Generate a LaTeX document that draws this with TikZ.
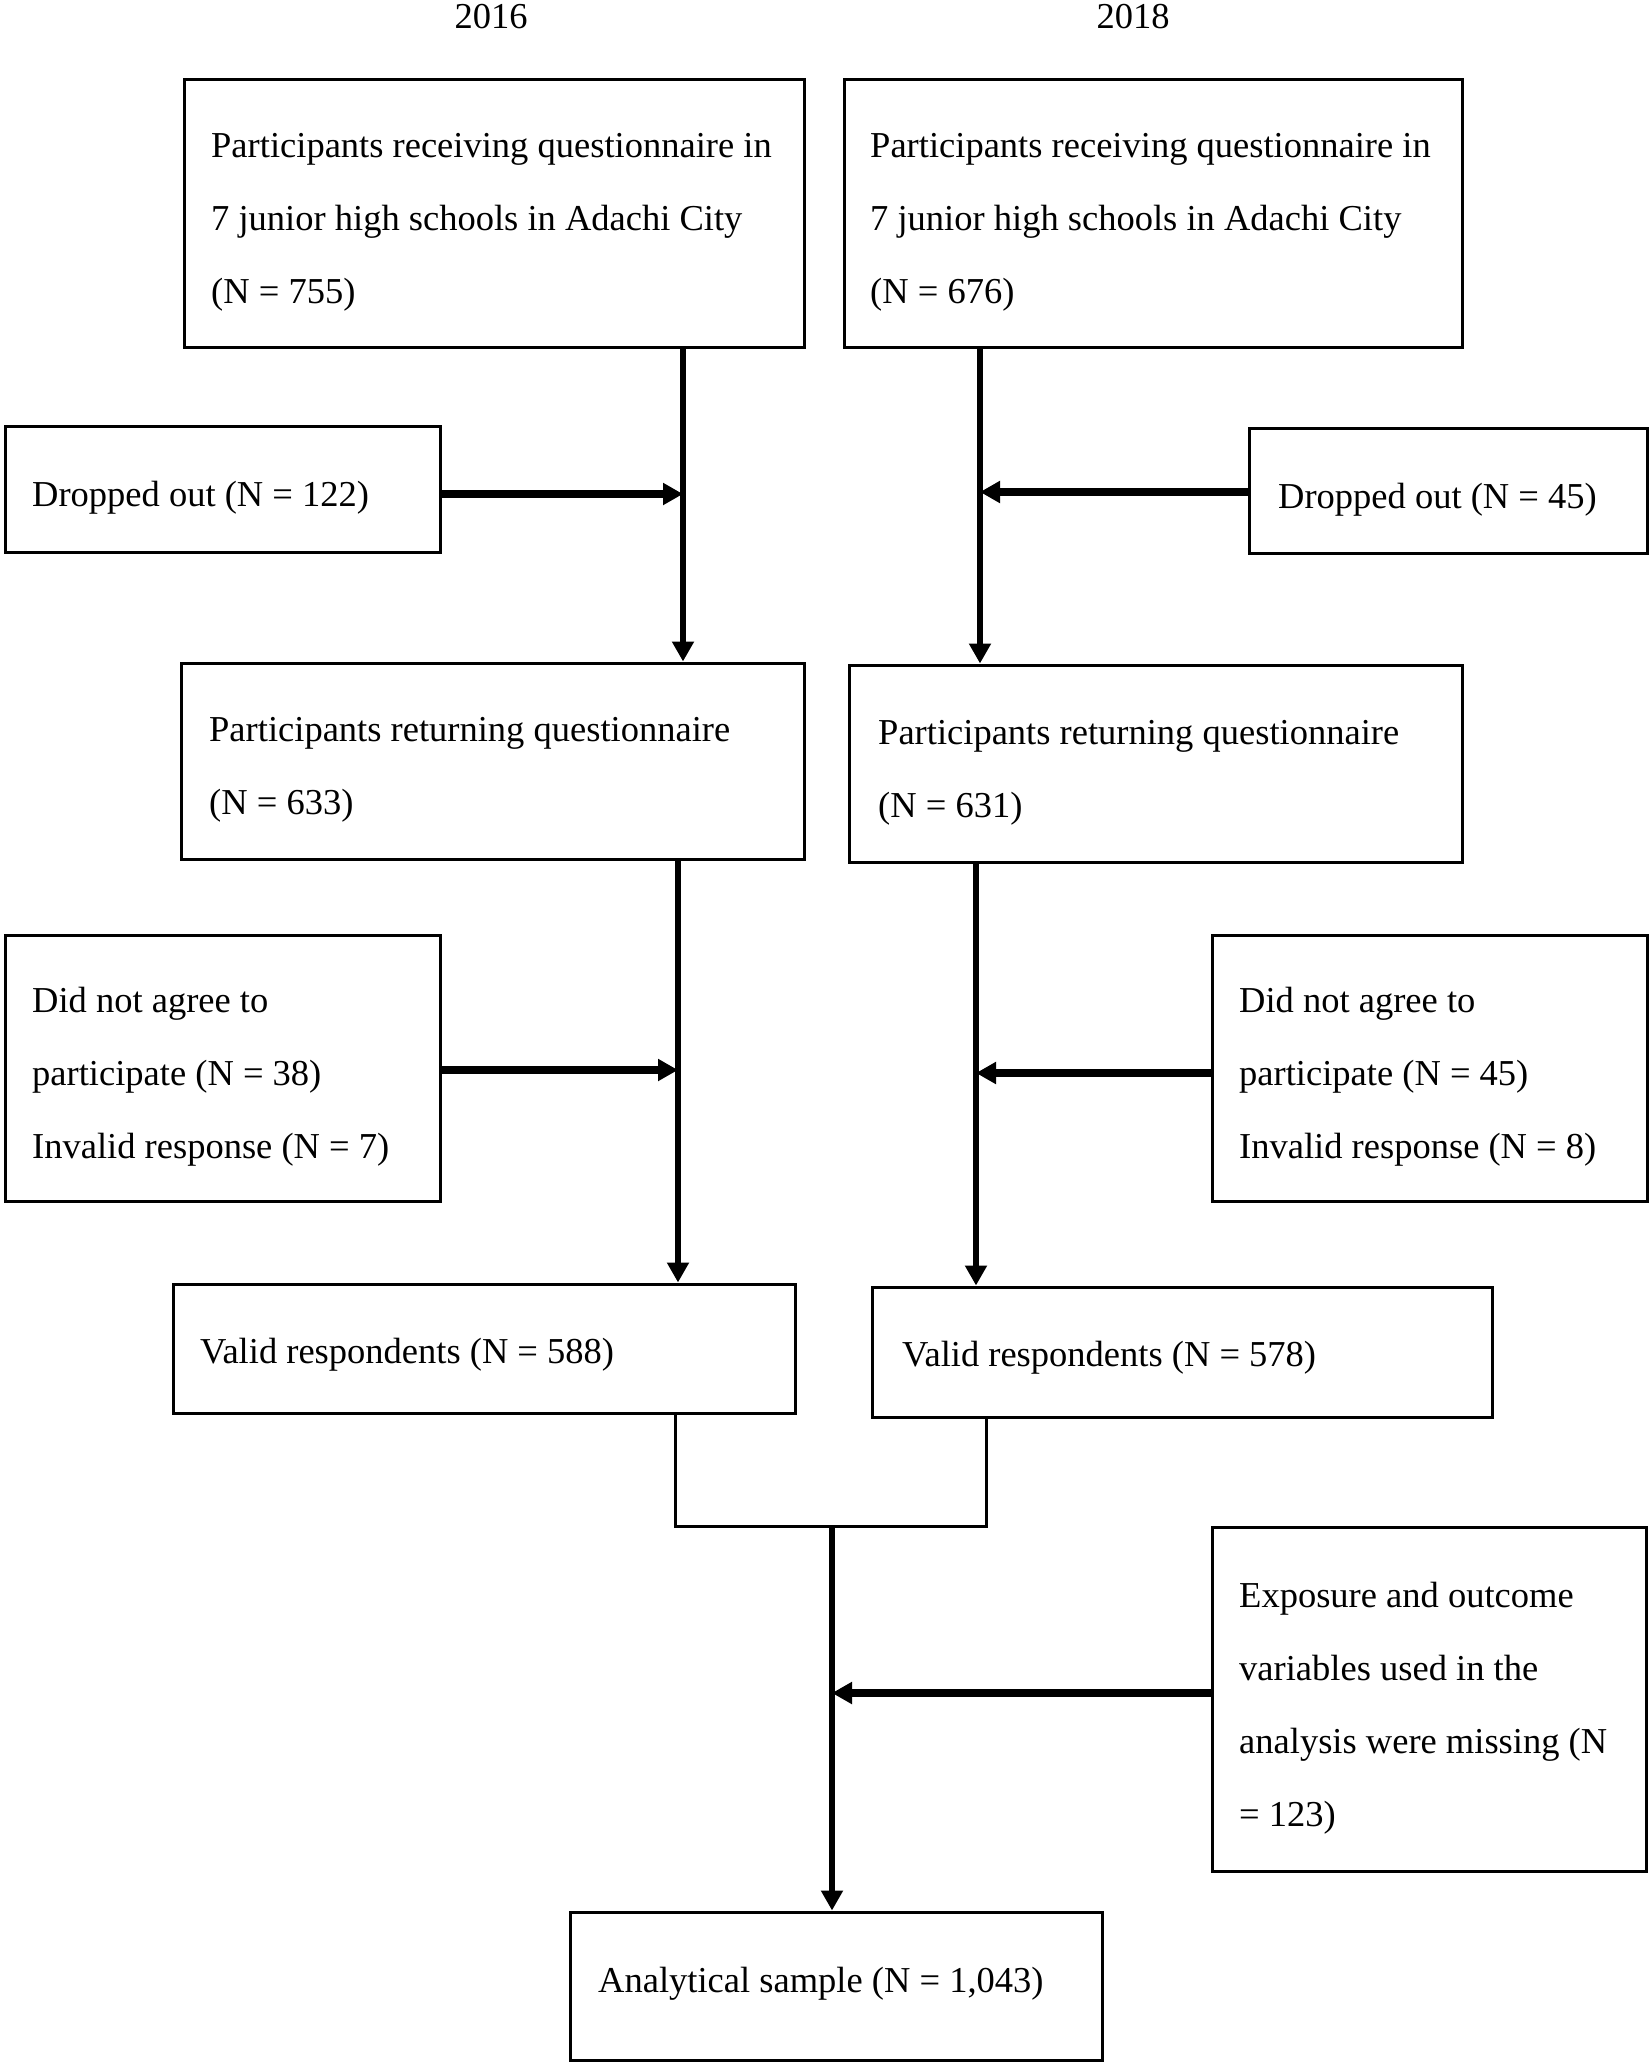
\documentclass[tikz,border=0pt]{standalone}
\usepackage{fontspec}
\setmainfont{Liberation Serif}
\usetikzlibrary{arrows.meta}
\begin{document}
\begin{tikzpicture}[x=1pt,y=-1pt,
  box/.style={draw, line width=3pt, inner sep=0pt},
  txt/.style={anchor=west, align=left, inner sep=0pt, yshift=-9pt, font=\fontsize{36.5}{73}\selectfont},
  ttl/.style={inner sep=0pt, font=\fontsize{36.5}{73}\selectfont},
  trunk/.style={line width=5.5pt},
  mergeline/.style={line width=3pt},
  side/.style={line width=8pt},
  tip/.style={-{Triangle[length=20pt,width=21pt]}},
]
\useasboundingbox[fill=white] (0,0) rectangle (1650,2064);

% titles
\node[ttl] (t16) at (491,17) {2016};
\node[ttl] (t18) at (1133,17) {2018};

% boxes
\node[box, minimum width=620pt, minimum height=268pt] (A1) at (494,213) {};
\node[box, minimum width=618pt, minimum height=268pt] (B1) at (1153,213) {};
\node[box, minimum width=435pt, minimum height=126pt] (DL) at (222.5,489) {};
\node[box, minimum width=398pt, minimum height=125pt] (DR) at (1448,490.5) {};
\node[box, minimum width=623pt, minimum height=196pt] (A2) at (492.5,761) {};
\node[box, minimum width=613pt, minimum height=197pt] (B2) at (1155.5,763.5) {};
\node[box, minimum width=435pt, minimum height=266pt] (NL) at (222.5,1068) {};
\node[box, minimum width=435pt, minimum height=266pt] (NR) at (1429.5,1068) {};
\node[box, minimum width=622pt, minimum height=129pt] (A3) at (484,1348.5) {};
\node[box, minimum width=620pt, minimum height=130pt] (B3) at (1182,1352) {};
\node[box, minimum width=434pt, minimum height=344pt] (EX) at (1429,1699) {};
\node[box, minimum width=532pt, minimum height=148pt] (AN) at (836,1986) {};

% texts
\node[txt] (A1t) at (A1.west -| 211,0) {Participants receiving questionnaire in\\7 junior high schools in Adachi City\\(N = 755)};
\node[txt] (B1t) at (B1.west -| 870,0) {Participants receiving questionnaire in\\7 junior high schools in Adachi City\\(N = 676)};
\node[txt] (DLt) at (DL.west -| 32,0) {Dropped out (N = 122)};
\node[txt] (DRt) at (DR.west -| 1278,0) {Dropped out (N = 45)};
\node[txt] (A2t) at (A2.west -| 209,0) {Participants returning questionnaire\\(N = 633)};
\node[txt] (B2t) at (B2.west -| 878,0) {Participants returning questionnaire\\(N = 631)};
\node[txt] (NLt) at (NL.west -| 32,0) {Did not agree to\\participate (N = 38)\\Invalid response (N = 7)};
\node[txt] (NRt) at (NR.west -| 1239,0) {Did not agree to\\participate (N = 45)\\Invalid response (N = 8)};
\node[txt] (A3t) at ([yshift=3pt]A3.west -| 200,0) {Valid respondents (N = 588)};
\node[txt] (B3t) at ([yshift=3pt]B3.west -| 902,0) {Valid respondents (N = 578)};
\node[txt] (EXt) at (EX.west -| 1239,0) {Exposure and outcome\\variables used in the\\analysis were missing (N\\= 123)};
\node[txt] (ANt) at ([yshift=11pt]AN.west -| 598,0) {Analytical sample (N = 1,043)};

% junction points
\coordinate (jL1) at (683,494);
\coordinate (jR1) at (980,492);
\coordinate (jL2) at (678,1070);
\coordinate (jR2) at (976,1073);
\coordinate (mL) at (675,1526);
\coordinate (mR) at (986,1526);
\coordinate (mC) at (832,1526);
\coordinate (jC) at (832,1693);

% connectors
\draw[trunk,tip] (A1.south -| jL1) -- (A2.north -| jL1);
\draw[trunk,tip] (B1.south -| jR1) -- (B2.north -| jR1);
\draw[side,tip] (DL.east |- jL1) -- (jL1);
\draw[side,tip] (DR.west |- jR1) -- (jR1);
\draw[trunk,tip] (A2.south -| jL2) -- (A3.north -| jL2);
\draw[trunk,tip] (B2.south -| jR2) -- (B3.north -| jR2);
\draw[side,tip] (NL.east |- jL2) -- (jL2);
\draw[side,tip] (NR.west |- jR2) -- (jR2);
\draw[mergeline] (A3.south -| mL) -- (mL) -- (mR) -- (B3.south -| mR);
\draw[trunk,tip] (mC) -- (AN.north -| mC);
\draw[side,tip] (EX.west |- jC) -- (jC);
\end{tikzpicture}
\end{document}
